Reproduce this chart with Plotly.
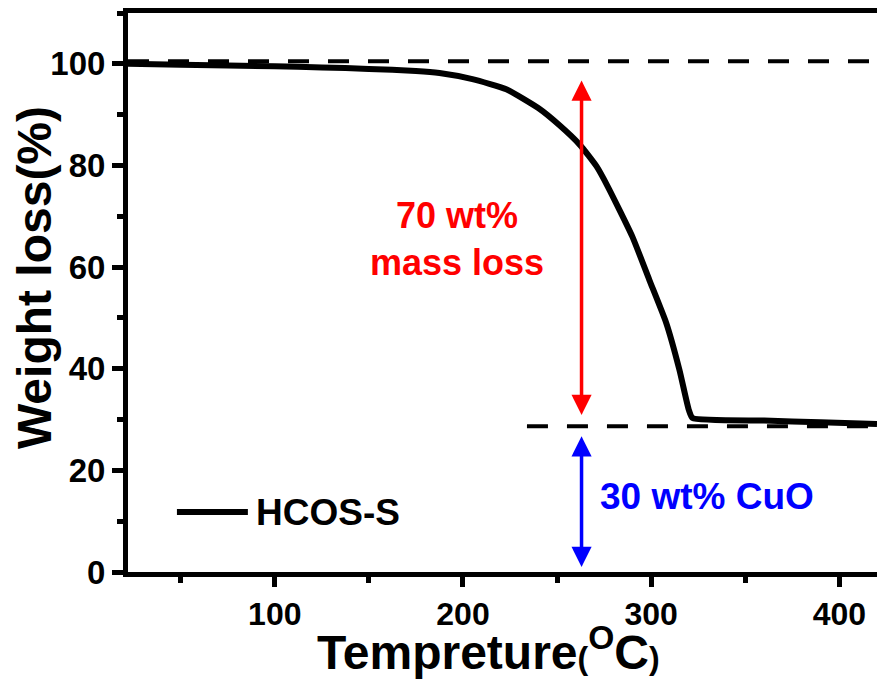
import plotly.graph_objects as go

# ---- data ----
temps = [22, 50, 100, 125, 150, 175, 187.5, 205, 223, 240, 251, 262, 271, 277,
         290, 299, 308, 315, 320, 322, 360, 390, 420]
weights = [100.0, 99.8, 99.5, 99.3, 99.0, 98.6, 98.2, 97.0, 95.0, 91.3, 88.0,
           84.1, 79.8, 75.8, 66.0, 57.5, 49.0, 39.8, 31.9, 30.3, 29.8, 29.45, 29.1]
series_name = "HCOS-S"

upper_ref = 100.5      # dashed line: initial mass
lower_ref = 28.7       # dashed line: residual mass
lower_ref_start = 234
arrow_x = 263
loss_arrow = (97.0, 30.9)
cuo_arrow = (27.0, 1.0)

x_ticks = [100, 200, 300, 400]
y_ticks = [0, 20, 40, 60, 80, 100]
x_range = [22, 420]
y_range = [0, 110]

FONT = "Liberation Sans, Arial, Helvetica, sans-serif"

fig = go.Figure()

# dashed reference lines
fig.add_trace(go.Scatter(x=[x_range[0], x_range[1]], y=[upper_ref, upper_ref], mode="lines",
                         line=dict(color="black", width=4, dash="21px,19px"),
                         showlegend=False, hoverinfo="skip"))
fig.add_trace(go.Scatter(x=[lower_ref_start, x_range[1]], y=[lower_ref, lower_ref], mode="lines",
                         line=dict(color="black", width=4, dash="21px,19px"),
                         showlegend=False, hoverinfo="skip"))

# main TGA curve
fig.add_trace(go.Scatter(x=temps, y=weights, mode="lines", name=series_name,
                         line=dict(color="black", width=6, shape="spline", smoothing=0.5),
                         showlegend=False))

annotations = []
# double-headed arrows
for (y0, y1), col in [(loss_arrow, "#ff0000"), (cuo_arrow, "#0000ff")]:
    annotations.append(dict(x=arrow_x, y=y1, ax=arrow_x, ay=y0, xref="x", yref="y",
                            axref="x", ayref="y", text="", showarrow=True,
                            arrowhead=2, startarrowhead=2, arrowside="end+start",
                            arrowsize=1.15, startarrowsize=1.15, arrowwidth=3.5,
                            arrowcolor=col, standoff=0, startstandoff=0))

annotations.append(dict(x=197, y=65.5, xref="x", yref="y", text="70 wt%<br>mass loss",
                        showarrow=False, font=dict(family=FONT, size=36, color="#ff0000", weight="bold"),
                        xanchor="center", yanchor="middle"))
annotations.append(dict(x=272, y=14.8, xref="x", yref="y", text="30 wt% CuO",
                        showarrow=False, font=dict(family=FONT, size=37, color="#0000ff", weight="bold"),
                        xanchor="left", yanchor="middle"))

# legend (manual)
annotations.append(dict(x=89, y=11.8, xref="x", yref="y", text=series_name,
                        showarrow=False, font=dict(family=FONT, size=37, color="black", weight="bold"),
                        xanchor="left", yanchor="middle"))

# axis titles
annotations.append(dict(x=-0.124, y=0.526, xref="paper", yref="paper", text="Weight loss(%)",
                        textangle=-90, showarrow=False,
                        font=dict(family=FONT, size=48, color="black", weight="bold"),
                        xanchor="center", yanchor="middle"))
annotations.append(dict(x=0.481, y=-0.138, xref="paper", yref="paper",
                        text="Tempreture<span style='font-size:32px'>(</span><sup>O</sup>C<span style='font-size:32px'>)</span>",
                        showarrow=False,
                        font=dict(family=FONT, size=48, color="black", weight="bold"),
                        xanchor="center", yanchor="middle"))

shapes = [dict(type="line", xref="x", yref="y", x0=48, x1=85.7, y0=11.8, y1=11.8,
               line=dict(color="black", width=6))]

fig.update_layout(
    width=877, height=679,
    margin=dict(l=128, r=0, t=13, b=107),
    paper_bgcolor="white", plot_bgcolor="white",
    annotations=annotations, shapes=shapes,
    font=dict(family=FONT, color="black"),
    showlegend=False,
)
fig.update_xaxes(range=x_range, tickvals=x_ticks, ticks="outside", ticklen=10, tickwidth=5,
                 tickcolor="black", showline=True, linewidth=5, linecolor="black", mirror=True,
                 showgrid=False, zeroline=False,
                 tickfont=dict(family=FONT, size=32, color="black", weight="bold"),
                 minor=dict(dtick=50, tick0=0, ticks="outside", ticklen=6, tickwidth=5, tickcolor="black"))
fig.update_yaxes(range=y_range, tickvals=y_ticks, ticks="outside", ticklen=11, tickwidth=5,
                 tickcolor="black", showline=True, linewidth=5, linecolor="black", mirror=False,
                 showgrid=False, zeroline=False,
                 tickfont=dict(family=FONT, size=33, color="black", weight="bold"),
                 minor=dict(dtick=10, tick0=0, ticks="outside", ticklen=6, tickwidth=5, tickcolor="black"))

fig.write_html("out.html")
